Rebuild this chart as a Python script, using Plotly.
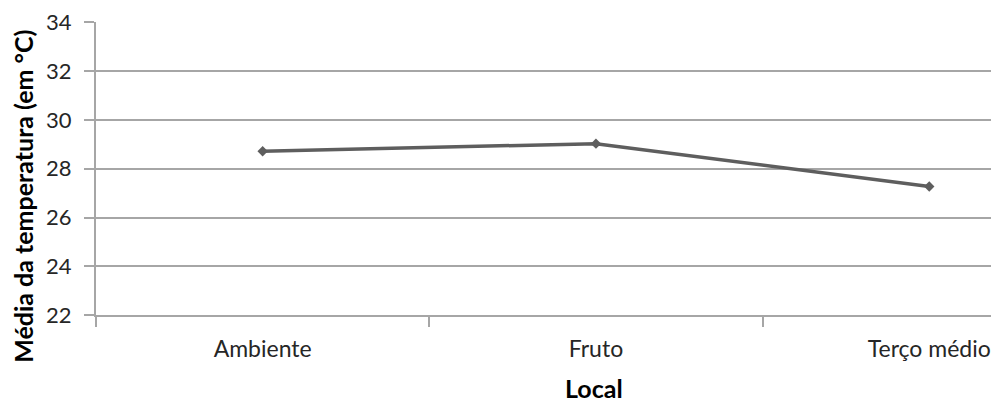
import plotly.graph_objects as go

categories = ["Ambiente", "Fruto", "Terço médio"]
temperatures = [28.72, 29.03, 27.27]
y_ticks = [22, 24, 26, 28, 30, 32, 34]

# page body has an 8px default margin; compensate so the plot lands where the reference has it
OFF = 8
W, H = 999 - OFF, 403 - OFF
plot_left, plot_top, plot_bottom = 96, 20, 315  # reference page pixels
L = plot_left - OFF
T = plot_top - OFF
plot_h = plot_bottom - plot_top
B = H - T - plot_h
R = 0
plot_w = W - L - R
cat_px = 333.3
x_right = -0.5 + plot_w / cat_px

FONT = "Lato"
GRID = "#a6a6a6"
LINE = "#5e5e5e"


def px_to_paper_x(px):
    return (px - plot_left) / plot_w


def px_to_paper_y(py):
    return (plot_bottom - py) / plot_h


fig = go.Figure()
fig.add_trace(go.Scatter(
    x=categories, y=temperatures, mode="lines+markers",
    line=dict(color=LINE, width=3.5),
    marker=dict(symbol="diamond", size=8, color=LINE),
    showlegend=False,
))

fig.update_layout(
    width=W, height=H,
    margin=dict(l=L, r=R, t=T, b=B, pad=0),
    paper_bgcolor="white", plot_bgcolor="white",
    font=dict(family=FONT, size=22, color="#262626"),
    xaxis=dict(
        type="category", range=[-0.5, x_right],
        tickson="boundaries", ticks="outside", ticklen=10, tickcolor=GRID, tickwidth=1.5,
        showline=True, linecolor=GRID, linewidth=2,
        showgrid=False, zeroline=False,
        tickfont=dict(family=FONT, size=23, color="#262626"),
        ticklabelstandoff=12,
        ticklabeloverflow="allow",
    ),
    yaxis=dict(
        range=[22, 34.02], tickvals=y_ticks,
        ticks="outside", ticklen=10, tickcolor=GRID, tickwidth=1.5,
        showline=True, linecolor=GRID, linewidth=2,
        showgrid=True, gridcolor=GRID, gridwidth=1.5, zeroline=False,
        tickfont=dict(family=FONT, size=22, color="#262626"),
        ticklabelstandoff=8,
        ticklabeloverflow="allow",
    ),
    annotations=[
        dict(text="<b>Média da temperatura (em °C)</b>", textangle=-90,
             xref="paper", yref="paper",
             x=px_to_paper_x(23), y=px_to_paper_y(196),
             xanchor="center", yanchor="middle", showarrow=False,
             font=dict(family=FONT, size=25, color="#000000")),
        dict(text="<b>Local</b>",
             xref="paper", yref="paper",
             x=px_to_paper_x(594), y=px_to_paper_y(388),
             xanchor="center", yanchor="middle", showarrow=False,
             font=dict(family=FONT, size=25, color="#000000")),
    ],
)

fig.write_html("out.html")
